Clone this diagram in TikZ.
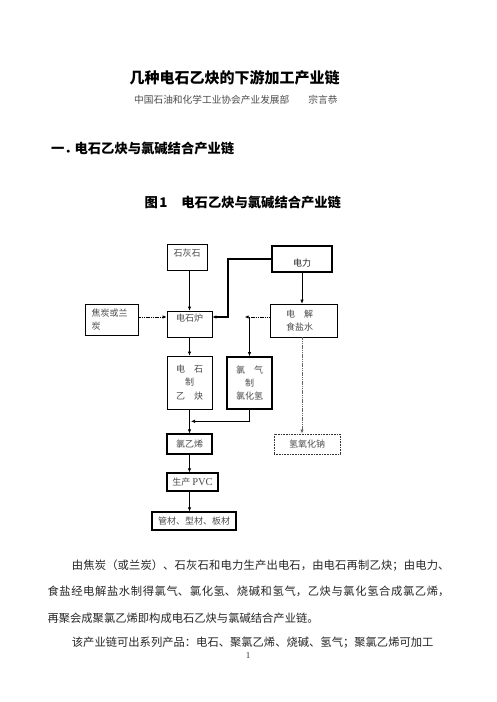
\documentclass[tikz,border=0pt]{standalone}
\usepackage{fontspec}
\setmainfont{Liberation Serif}
\newfontfamily\cjk{Noto Sans CJK SC}
\usetikzlibrary{calc, positioning, arrows.meta}
\XeTeXlinebreaklocale "zh"
\XeTeXlinebreakskip=0pt plus 1pt
\def\boxfont{\cjk\fontsize{9}{13}\selectfont}
\def\bodyfont{\cjk\fontsize{11.3}{26.3}\selectfont}
\def\headfont{\cjk\bfseries\fontsize{13.3}{14}\selectfont}
\tikzstyle{stage}=[draw, line width=0.6pt, inner sep=0pt, font=\boxfont, text=black!70, align=center]
\tikzstyle{bold stage}=[stage, line width=1.2pt]
\tikzstyle{heavy stage}=[stage, line width=1.6pt]
\tikzstyle{dotted stage}=[stage, dash pattern=on 1pt off 0.6pt, line width=0.9pt, draw=black!80]
\tikzstyle{flow}=[->, line width=0.6pt]
\tikzstyle{dotted flow}=[flow, dash pattern=on 1.2pt off 0.6pt, line width=0.9pt]
\tikzstyle{body}=[font=\bodyfont, text=black!85, text width=402pt, inner sep=0pt, align=justify, anchor=base west]

\begin{document}
\begin{tikzpicture}[x=1pt, y=-1pt, >={Latex[length=4pt,width=3.4pt]}]
        \fill[white] (0,0) rectangle (496,702);
        \useasboundingbox (0,0) rectangle (496,702);

        \node[font=\cjk\bfseries\fontsize{15}{15}\selectfont] (title) at (234.7,77.7) {几种电石乙炔的下游加工产业链};
        \node[anchor=east, font=\cjk\fontsize{9.7}{10}\selectfont, text=black!70] (author) at (341,100) {中国石油和化学工业协会产业发展部\hspace{19pt}宗言恭};
        \node[anchor=west, font=\headfont] (section) at (47.5,148.3) {一．\kern-3pt 电石乙炔与氯碱结合产业链};
        \node[anchor=west, font=\headfont] (caption) at (141,202.3) {图\hspace{1.5pt}1\hspace{14pt}电石乙炔与氯碱结合产业链};

        % chain
        \node[stage, minimum width=40pt, minimum height=26pt, text height=7.9pt, text depth=8.5pt] (lime) at (187,257) {石灰石};
        \node[heavy stage, minimum width=60pt, minimum height=26pt, text height=16.5pt, text depth=1.1pt, text=black!85] (power) at (302,259) {电力};
        \node[stage, minimum width=53pt, minimum height=31pt, text width=39.6pt, align=left] (coke) at (111.5,319.5) {焦炭或兰\\炭};
        \node[stage, minimum width=45pt, minimum height=26pt, text height=7.9pt, text depth=12.5pt] (furnace) at (189.5,324) {电石炉};
        \node[stage, minimum width=67pt, minimum height=33pt, text width=35pt, align=left] (brine) at (303.5,320.5) {电　解\\食盐水};
        \node[stage, minimum width=45pt, minimum height=53pt, font=\cjk\fontsize{9}{13.5}\selectfont] (acetylene) at (189.5,382.5) {电　石\\制\\乙　炔};
        \node[heavy stage, minimum width=45pt, minimum height=52pt] (hcl) at (249.5,383) {氯　气\\制\\氯化氢};
        \node[bold stage, minimum width=45pt, minimum height=20pt] (vcm) at (189.5,444) {氯乙烯};
        \node[dotted stage, minimum width=66pt, minimum height=20pt] (naoh) at (307,444) {氢氧化钠};
        \node[bold stage, minimum width=51pt, minimum height=18pt] (pvc) at (192.5,482) {生产 {\rmfamily\fontsize{10.5}{13}\selectfont PVC}};
        \node[bold stage, minimum width=84pt, minimum height=18pt] (pipe) at (194,521) {管材、型材、板材};

        \draw[flow] (lime.south -| furnace.north) -- (furnace.north);
        \draw[flow] (power.south) -- (power.south |- brine.north);
        \draw[flow, line width=1.2pt] (power.west) -| ($(furnace.east)+(15.7,-7)$) -- ($(furnace.east)+(0,-7)$);
        \draw[dotted flow] ($(coke.east)+(0,-2.5)$) -- ($(furnace.west)+(0,-7)$);
        \draw[dotted flow] ($(brine.west)+(0,-3.5)$) -- ++(-25,0) coordinate (clsplit);
        \draw[flow] (clsplit -| hcl.north) -- (hcl.north);
        \draw[flow] (furnace) -- (acetylene);
        \draw[flow] (acetylene) -- (vcm);
        \draw[flow] (hcl.south) |- ($(acetylene.south)+(1.5,12)$);
        \draw[flow] (vcm.south) -- (vcm.south |- pvc.north);
        \draw[flow] (vcm.south |- pvc.south) -- (vcm.south |- pipe.north);
        \draw[dotted flow, black!60] (brine.south -| power.south) -- (power.south |- naoh.north);

        % text
        \node[body] (para1) at (47.3,569.5) {\hspace*{24.4pt}由焦炭（或兰炭）、石灰石和电力生产出电石，由电石再制乙炔；由电力、\linebreak 食盐经电解盐水制得氯气、氯化氢、烧碱和氢气，乙炔与氯化氢合成氯乙烯，\linebreak 再聚会成聚氯乙烯即构成电石乙炔与氯碱结合产业链。};
        \node[body] (para2) at (47.3,646) {\parfillskip=0pt\hspace*{24.4pt}该产业链可出系列产品：电石、聚氯乙烯、烧碱、氢气；聚氯乙烯可加工};
        \node[font=\fontsize{9}{9}\selectfont, text=black!80] (folio) at (248,656) {1};
\end{tikzpicture}
\end{document}
